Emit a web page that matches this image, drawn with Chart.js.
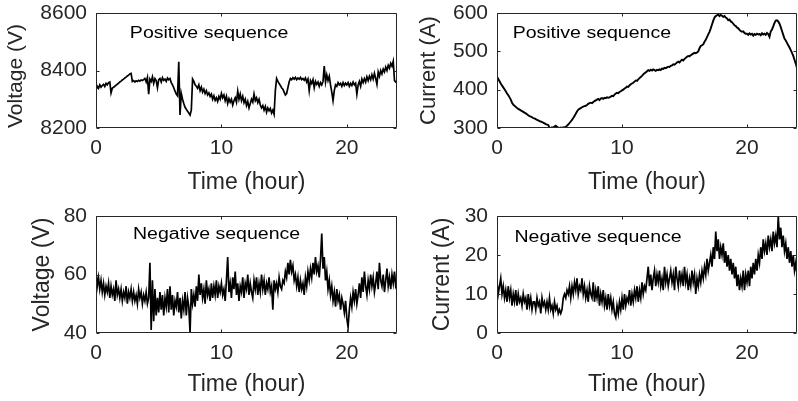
<!DOCTYPE html>
<html>
<head>
<meta charset="utf-8">
<script src="https://cdn.jsdelivr.net/npm/chart.js@4"></script>
<style>
  html, body { margin: 0; padding: 0; background: #fff; }
  #wrap { position: relative; width: 798px; height: 401px; overflow: hidden; }
  canvas { position: absolute; }
</style>
</head>
<body>
<div id="wrap">
  <canvas id="vPos" width="399" height="200" style="left:0;top:0"></canvas>
  <canvas id="iPos" width="399" height="200" style="left:399px;top:0"></canvas>
  <canvas id="vNeg" width="399" height="201" style="left:0;top:200px"></canvas>
  <canvas id="iNeg" width="399" height="201" style="left:399px;top:200px"></canvas>
</div>
<script>
// sample times (hour)
const hours = [
  0.0,0.1,0.2,0.3,0.4,0.5,0.6,0.7,0.8,0.9,
  1.0,1.1,1.2,1.3,1.4,1.5,1.6,1.7,1.8,1.9,
  2.0,2.1,2.2,2.3,2.4,2.5,2.6,2.7,2.8,2.9,
  3.0,3.1,3.2,3.3,3.4,3.5,3.6,3.7,3.8,3.9,
  4.0,4.1,4.2,4.3,4.4,4.5,4.6,4.7,4.8,4.9,
  5.0,5.1,5.2,5.3,5.4,5.5,5.6,5.7,5.8,5.9,
  6.0,6.1,6.2,6.3,6.4,6.5,6.6,6.7,6.8,6.9,
  7.0,7.1,7.2,7.3,7.4,7.5,7.6,7.7,7.8,7.9,
  8.0,8.1,8.2,8.3,8.4,8.5,8.6,8.7,8.8,8.9,
  9.0,9.1,9.2,9.3,9.4,9.5,9.6,9.7,9.8,9.9,
  10.0,10.1,10.2,10.3,10.4,10.5,10.6,10.7,10.8,10.9,
  11.0,11.1,11.2,11.3,11.4,11.5,11.6,11.7,11.8,11.9,
  12.0,12.1,12.2,12.3,12.4,12.5,12.6,12.7,12.8,12.9,
  13.0,13.1,13.2,13.3,13.4,13.5,13.6,13.7,13.8,13.9,
  14.0,14.1,14.2,14.3,14.4,14.5,14.6,14.7,14.8,14.9,
  15.0,15.1,15.2,15.3,15.4,15.5,15.6,15.7,15.8,15.9,
  16.0,16.1,16.2,16.3,16.4,16.5,16.6,16.7,16.8,16.9,
  17.0,17.1,17.2,17.3,17.4,17.5,17.6,17.7,17.8,17.9,
  18.0,18.1,18.2,18.3,18.4,18.5,18.6,18.7,18.8,18.9,
  19.0,19.1,19.2,19.3,19.4,19.5,19.6,19.7,19.8,19.9,
  20.0,20.1,20.2,20.3,20.4,20.5,20.6,20.7,20.8,20.9,
  21.0,21.1,21.2,21.3,21.4,21.5,21.6,21.7,21.8,21.9,
  22.0,22.1,22.2,22.3,22.4,22.5,22.6,22.7,22.8,22.9,
  23.0,23.1,23.2,23.3,23.4,23.5,23.6,23.7,23.8,23.9,
  24.0
];

// positive sequence voltage (V)
const voltagePos = [
  8332,8345,8338,8350,8342,8348,8352,8344,8355,8350,
  8358,8360,8322,8338,8342,8345,8349,8352,8356,8360,
  8363,8367,8370,8374,8377,8381,8384,8388,8390,8362,
  8365,8360,8364,8362,8366,8363,8367,8365,8368,8372,
  8360,8376,8318,8370,8362,8378,8355,8372,8365,8340,
  8368,8372,8360,8375,8366,8370,8362,8374,8368,8372,
  8358,8350,8340,8328,8318,8312,8430,8245,8320,8300,
  8285,8272,8265,8258,8252,8245,8262,8370,8362,8350,
  8345,8338,8350,8330,8342,8325,8335,8320,8330,8315,
  8322,8310,8318,8300,8312,8296,8305,8292,8310,8300,
  8320,8305,8315,8295,8310,8285,8302,8290,8300,8280,
  8295,8305,8290,8328,8300,8318,8295,8310,8288,8300,
  8278,8292,8270,8285,8300,8290,8318,8295,8305,8288,
  8300,8280,8270,8278,8262,8275,8255,8270,8260,8268,
  8252,8262,8248,8330,8372,8362,8355,8348,8340,8335,
  8325,8315,8320,8340,8360,8372,8368,8375,8370,8376,
  8368,8374,8370,8376,8368,8372,8366,8374,8360,8370,
  8330,8365,8355,8368,8340,8362,8352,8360,8345,8358,
  8350,8362,8415,8360,8385,8365,8380,8350,8325,8295,
  8330,8350,8345,8358,8350,8355,8345,8358,8348,8356,
  8350,8358,8345,8355,8348,8360,8350,8356,8318,8350,
  8362,8345,8370,8358,8372,8360,8378,8365,8380,8368,
  8385,8370,8390,8372,8352,8395,8380,8400,8388,8405,
  8395,8412,8400,8418,8408,8425,8415,8432,8365,8360,
  8365
];

// positive sequence current (A)
const currentPos = [
  434,428,422,416,411,406,401,396,390,386,
  380,374,366,361,358,355,352,350,348,346,
  344,342,340,338,336,333,331,330,328,326,
  325,323,321,320,318,317,315,314,312,310,
  309,308,301,300,302,301,304,306,303,301,
  300,301,300,302,301,303,306,309,313,317,
  321,326,331,337,343,348,350,352,354,356,
  357,358,360,363,365,366,365,368,370,372,
  374,376,373,377,378,376,379,378,380,379,
  380,382,384,383,387,390,392,391,394,396,
  398,400,403,405,408,407,411,414,416,418,
  421,424,423,427,430,433,436,440,443,445,
  448,451,449,452,450,453,451,449,452,451,
  453,451,455,454,457,456,458,460,459,462,
  463,466,465,468,471,473,471,475,478,476,
  480,483,486,488,487,490,492,494,496,495,
  497,500,508,514,516,518,525,530,537,544,
  551,560,570,580,588,592,594,596,592,595,
  593,590,592,588,586,581,583,578,576,572,
  568,566,562,560,556,553,551,552,548,546,
  546,543,547,544,546,541,545,543,546,544,
  545,542,547,544,546,543,548,545,538,552,
  557,565,574,580,581,578,572,563,553,543,
  533,528,522,516,510,503,496,488,478,468,
  456
];

// negative sequence voltage (V)
const voltageNeg = [
  61,56,59,55,58,54,57,53,56,54,
  57,52,56,53,55,51,58,53,55,52,
  55,51,54,52,56,50,54,52,55,51,
  54,51,53,50,55,52,54,50,53,51,
  54,50,52,64,41,58,44,55,46,52,
  47,54,48,53,46,52,49,55,47,56,
  48,53,46,51,49,54,47,52,45,51,
  48,54,46,52,49,40,55,50,53,49,
  56,51,60,53,57,52,55,50,58,53,
  55,51,57,52,56,53,58,52,56,54,
  57,53,55,51,58,66,54,57,52,59,
  55,61,53,57,51,56,54,59,52,57,
  55,60,53,57,54,52,58,55,59,53,
  57,54,60,55,58,53,57,55,59,54,
  56,48,58,55,57,54,59,56,55,58,
  57,61,59,64,60,65,61,63,58,60,
  56,59,54,58,55,57,53,59,56,61,
  58,62,59,64,60,66,61,63,59,65,
  74,62,66,58,61,55,58,53,56,51,
  54,49,55,51,53,48,52,50,47,51,
  45,42,48,52,49,54,51,55,50,53,
  57,52,59,54,61,56,53,58,55,60,
  56,59,54,57,61,55,64,58,56,60,
  54,58,62,56,59,55,60,57,61,56,
  57
];

// negative sequence current (A)
const currentNeg = [
  13,10,12,14,10,12,9,11,8,12,
  9,11,7,10,8,11,7,10,8,9,
  7,10,8,9,6,10,7,9,6,8,
  8,6,9,7,8,5,9,7,8,6,
  8,6,9,6,7,5,8,6,7,5,
  6,5,6,9,10,9,11,10,12,9,
  12,10,13,11,14,10,12,11,14,10,
  12,9,11,8,12,10,9,13,8,11,
  9,12,7,10,8,11,7,9,6,10,
  7,9,6,8,5,4,7,5,8,6,
  9,6,10,7,9,8,11,7,10,8,
  11,9,12,8,11,9,13,10,12,11,
  14,17,12,15,11,14,16,12,15,13,
  16,12,14,11,17,13,15,12,14,16,
  13,15,11,17,14,12,16,13,15,12,
  17,13,15,11,14,12,16,13,15,10,
  14,12,15,13,16,14,17,15,19,16,
  18,20,17,22,19,26,21,24,19,22,
  20,23,18,21,17,20,16,19,15,18,
  14,17,12,15,11,14,12,16,11,15,
  13,16,12,17,14,18,15,19,16,20,
  18,22,19,24,21,23,20,25,22,24,
  21,26,23,25,22,30,24,27,22,25,
  21,23,19,22,18,21,17,20,16,18,
  15
];

const xTicks = [0, 10, 20];
const vPosTicks = [8200, 8400, 8600];
const iPosTicks = [300, 400, 500, 600];
const vNegTicks = [40, 60, 80];
const iNegTicks = [0, 10, 20, 30];

const FONT = '"Liberation Sans", Arial, sans-serif';
const AXIS_COLOR = '#262626';
Chart.defaults.font.family = FONT;

// box round the axes with inward ticks, plus the in-plot note
const boxPlugin = {
  id: 'box',
  afterDatasetsDraw(chart, args, opts) {
    const { ctx, chartArea: a, scales: { x, y } } = chart;
    const l = Math.round(a.left) + 0.5, r = Math.round(a.right) - 0.5;
    const t = Math.round(a.top) + 0.5, b = Math.round(a.bottom) - 0.5;
    ctx.save();
    ctx.strokeStyle = AXIS_COLOR;
    ctx.lineWidth = 1;
    ctx.beginPath();
    ctx.rect(l, t, r - l, b - t);
    x.ticks.forEach(tk => {
      const px = Math.round(x.getPixelForValue(tk.value)) + 0.5;
      ctx.moveTo(px, b); ctx.lineTo(px, b - 3);
      ctx.moveTo(px, t); ctx.lineTo(px, t + 3);
    });
    y.ticks.forEach(tk => {
      const py = Math.round(y.getPixelForValue(tk.value)) + 0.5;
      ctx.moveTo(l, py); ctx.lineTo(l + 3, py);
      ctx.moveTo(r, py); ctx.lineTo(r - 3, py);
    });
    ctx.stroke();

    ctx.translate(x.getPixelForValue(opts.atX), y.getPixelForValue(opts.atY));
    ctx.scale(1.22, 1);
    ctx.font = '16px ' + FONT;
    ctx.fillStyle = '#000';
    ctx.textBaseline = 'middle';
    ctx.fillText(opts.text, 0, 0);
    ctx.restore();
  }
};

function drawPanel(id, values, yRange, yTicks, yTitle, layout, note) {
  new Chart(document.getElementById(id), {
    type: 'line',
    data: {
      datasets: [{
        data: hours.map((h, i) => ({ x: h, y: values[i] })),
        borderColor: '#000',
        borderWidth: layout.lineWidth,
        pointRadius: 0,
        tension: 0
      }]
    },
    options: {
      responsive: false,
      animation: false,
      events: [],
      layout: { padding: { top: layout.top, right: layout.right, left: 0, bottom: 0 } },
      plugins: {
        legend: { display: false },
        tooltip: { enabled: false },
        box: note
      },
      scales: {
        x: {
          type: 'linear',
          min: 0,
          max: 24,
          grid: { display: false, drawTicks: false },
          border: { display: false },
          afterBuildTicks: s => { s.ticks = xTicks.map(v => ({ value: v })); },
          afterFit: s => { s.height = layout.xHeight; s.paddingLeft = 0; s.paddingRight = 0; },
          ticks: { color: AXIS_COLOR, font: { size: 21 }, padding: 8, maxRotation: 0, autoSkip: false,
                   callback: v => String(v) },
          title: { display: true, text: 'Time (hour)', color: AXIS_COLOR, font: { size: 23 },
                   padding: { top: 0, bottom: layout.xTitlePad } }
        },
        y: {
          type: 'linear',
          min: yRange[0],
          max: yRange[1],
          grid: { display: false, drawTicks: false },
          border: { display: false },
          afterBuildTicks: s => { s.ticks = yTicks.map(v => ({ value: v })); },
          afterFit: s => { s.width = layout.yWidth; s.paddingTop = 0; s.paddingBottom = 0; },
          ticks: { color: AXIS_COLOR, font: { size: 21 }, padding: 9, autoSkip: false,
                   callback: v => String(v) },
          title: { display: true, text: yTitle, color: AXIS_COLOR, font: { size: layout.yTitleSize },
                   align: layout.yTitleAlign, padding: { top: layout.yTitlePad, bottom: 0 } }
        }
      }
    },
    plugins: [boxPlugin]
  });
}

drawPanel('vPos', voltagePos, [8200, 8600], vPosTicks, 'Voltage (V)',
  { top: 13, right: 2, yWidth: 96, xHeight: 72, xTitlePad: 4, yTitleSize: 21, yTitlePad: 4,
    yTitleAlign: 'start', lineWidth: 1.7 },
  { text: 'Positive sequence', atX: 2.7, atY: 8530 });
drawPanel('iPos', currentPos, [300, 600], iPosTicks, 'Current (A)',
  { top: 13, right: 1, yWidth: 98, xHeight: 72, xTitlePad: 4, yTitleSize: 22, yTitlePad: 17,
    yTitleAlign: 'center', lineWidth: 1.9 },
  { text: 'Positive sequence', atX: 1.25, atY: 545 });
drawPanel('vNeg', voltageNeg, [40, 80], vNegTicks, 'Voltage (V)',
  { top: 16, right: 2, yWidth: 96, xHeight: 68, xTitlePad: 3, yTitleSize: 23, yTitlePad: 29,
    yTitleAlign: 'center', lineWidth: 1.7 },
  { text: 'Negative sequence', atX: 2.95, atY: 73.5 });
drawPanel('iNeg', currentNeg, [0, 30], iNegTicks, 'Current (A)',
  { top: 16, right: 1, yWidth: 98, xHeight: 68, xTitlePad: 3, yTitleSize: 23, yTitlePad: 30,
    yTitleAlign: 'center', lineWidth: 1.7 },
  { text: 'Negative sequence', atX: 1.4, atY: 24.4 });
</script>
</body>
</html>
